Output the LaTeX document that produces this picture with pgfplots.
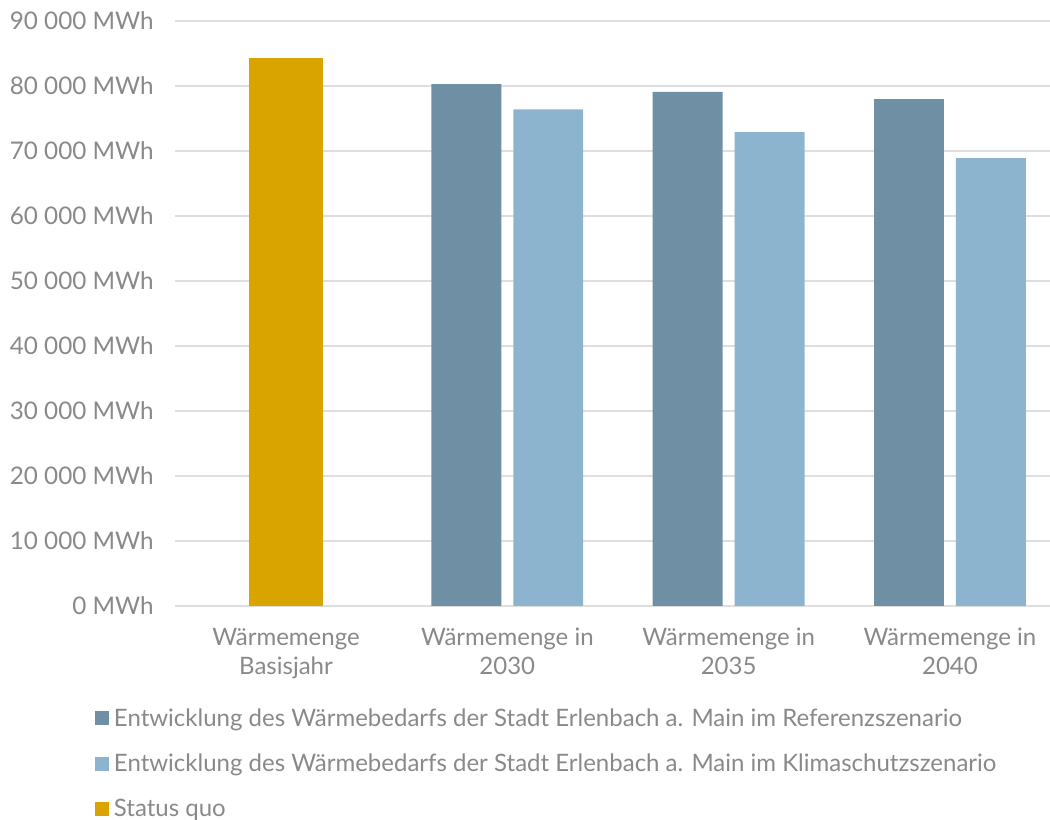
\documentclass[border=0pt]{standalone}
\usepackage{pgfplots}
\pgfplotsset{compat=1.18}
\usepackage{fontspec}
\setmainfont{Lato}
\definecolor{txt}{HTML}{898989}
\definecolor{gridc}{HTML}{DEDEDE}
\definecolor{refc}{HTML}{6F8FA5}
\definecolor{klimac}{HTML}{8DB4CF}
\definecolor{statc}{HTML}{D9A400}
\begin{document}
\begin{tikzpicture}[x=1pt,y=1pt]
\path[use as bounding box] (0,0) rectangle (787.5,615);
\begin{axis}[
  at={(131.5pt,160.5pt)}, anchor=south west,
  scale only axis, width=656pt, height=438.75pt,
  xmin=-0.5, xmax=3.452, ymin=0, ymax=90000,
  scaled y ticks=false,
  ytick={0,10000,...,90000},
  yticklabels={0 MWh,10 000 MWh,20 000 MWh,30 000 MWh,40 000 MWh,50 000 MWh,60 000 MWh,70 000 MWh,80 000 MWh,90 000 MWh},
  xtick={0,1,2,3},
  xticklabels={Wärmemenge\\Basisjahr,Wärmemenge in\\2030,Wärmemenge in\\2035,Wärmemenge in\\2040},
  xticklabel style={align=center, inner sep=0pt, yshift=-16.5pt, font=\fontsize{18}{21.5}\selectfont, text=txt},
  yticklabel style={anchor=east, inner sep=0pt, xshift=-16pt, font=\fontsize{18.2}{20}\selectfont, text=txt},
  major tick length=0pt,
  axis line style={draw=none},
  ymajorgrids, grid style={color=gridc, line width=0.8pt},
  legend cell align=left,
  legend style={draw=none, fill=none, inner sep=0pt,
    at={(axis description cs:-0.0918,-0.1727)}, anchor=north west,
    nodes={inner sep=1pt, anchor=west, text=txt, font=\fontsize{18}{20}\selectfont},
    row sep=17.2pt},
  legend image code/.code={\fill[#1] (0pt,-5.25pt) rectangle (10.5pt,5.25pt); \path (0pt,0pt) -- (13pt,0pt);},
]
\addplot[ybar, bar shift=0pt, bar width=0.316, fill=refc, draw=none] coordinates {(0.815,80300) (1.815,79100) (2.815,78000)};
\addlegendentry{Entwicklung des Wärmebedarfs der Stadt Erlenbach a. Main im Referenzszenario}
\addplot[ybar, bar shift=0pt, bar width=0.316, fill=klimac, draw=none] coordinates {(1.185,76400) (2.185,72900) (3.185,68900)};
\addlegendentry{Entwicklung des Wärmebedarfs der Stadt Erlenbach a. Main im Klimaschutzszenario}
\addplot[ybar, bar shift=0pt, bar width=0.334, fill=statc, draw=none] coordinates {(0,84300)};
\addlegendentry{Status quo}
\end{axis}
\end{tikzpicture}
\end{document}
